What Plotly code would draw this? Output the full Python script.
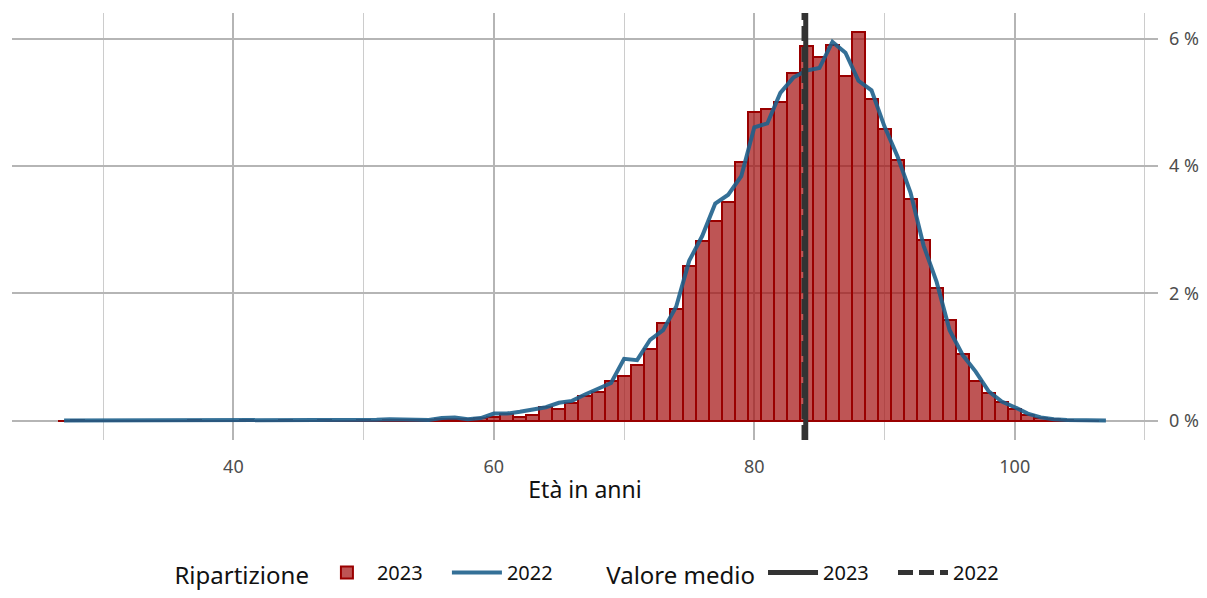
import plotly.graph_objects as go

# ---------------- data ----------------
ages_2023 = list(range(27, 107))
share_2023 = {
    28: 0.005, 37: 0.005, 41: 0.005, 44: 0.005, 47: 0.005, 50: 0.005,
    52: 0.008, 53: 0.01, 54: 0.008, 55: 0.015, 56: 0.02, 57: 0.03, 58: 0.03,
    59: 0.04, 60: 0.05, 61: 0.11, 62: 0.06, 63: 0.09, 64: 0.21, 65: 0.18,
    66: 0.28, 67: 0.385, 68: 0.45, 69: 0.62, 70: 0.70, 71: 0.88, 72: 1.12,
    73: 1.54, 74: 1.76, 75: 2.43, 76: 2.82, 77: 3.14, 78: 3.44, 79: 4.07,
    80: 4.85, 81: 4.89, 82: 5.00, 83: 5.46, 84: 5.88, 85: 5.72, 86: 5.90,
    87: 5.42, 88: 6.10, 89: 5.05, 90: 4.58, 91: 4.10, 92: 3.49, 93: 2.84,
    94: 2.08, 95: 1.58, 96: 1.04, 97: 0.62, 98: 0.44, 99: 0.29, 100: 0.19,
    101: 0.09, 102: 0.04, 103: 0.02, 104: 0.01,
}
values_2023 = [share_2023.get(a, 0) for a in ages_2023]

ages_2022 = list(range(27, 108))
values_2022 = [
    0, 0, 0, 0, 0, 0, 0, 0, 0, 0,            # 27-36
    0, 0, 0, 0, 0, 0, 0.004, 0.006, 0.003, 0,  # 37-46
    0.002, 0.004, 0.01, 0.008, 0.012,        # 47-51
    0.02, 0.02, 0.02, 0.01, 0.04, 0.05, 0.02, 0.04,  # 52-59
    0.11, 0.11, 0.14, 0.17, 0.21, 0.28, 0.31, 0.41,  # 60-67
    0.50, 0.59, 0.97, 0.95, 1.27, 1.42, 1.79, 2.51,  # 68-75
    2.90, 3.41, 3.55, 3.84, 4.61, 4.67, 5.15, 5.39,  # 76-83
    5.50, 5.54, 5.95, 5.78, 5.34, 5.19, 4.62, 4.15,  # 84-91
    3.58, 2.75, 2.18, 1.42, 1.03, 0.77, 0.46, 0.30,  # 92-99
    0.21, 0.11, 0.05, 0.02, 0.01, 0.005, 0, 0,       # 100-107
]

mean_2023 = 83.95
mean_2022 = 83.82

x_range = [23, 111]
x_ticks = [40, 60, 80, 100]
y_range = [-0.305, 6.405]
y_ticks = [0, 2, 4, 6]
y_ticklabels = ["0 %", "2 %", "4 %", "6 %"]

FONT = "Noto Sans"

fig = go.Figure()

fig.add_trace(go.Bar(
    x=ages_2023, y=values_2023, width=1,
    name="2023", legend="legend",
    marker=dict(color="rgba(165,20,20,0.72)",
                line=dict(color="#9a0000", width=2)),
))

fig.add_trace(go.Scatter(
    x=ages_2022, y=values_2022, mode="lines", name="2022",
    legend="legend",
    line=dict(color="rgba(30,96,140,0.9)", width=4),
))

fig.add_trace(go.Scatter(
    x=[mean_2023, mean_2023], y=y_range, mode="lines", name="2023",
    legend="legend2",
    line=dict(color="#333333", width=5),
))
fig.add_trace(go.Scatter(
    x=[mean_2022, mean_2022], y=y_range, mode="lines", name="2022",
    legend="legend2",
    line=dict(color="#333333", width=5, dash="15px,6px"),
))

legend_common = dict(
    orientation="h", y=-0.314, xanchor="left", yanchor="middle",
    font=dict(size=20, color="#111111"), itemwidth=50,
    entrywidth=65, entrywidthmode="pixels",
    bgcolor="rgba(0,0,0,0)",
)

fig.update_layout(
    width=1199, height=590,
    margin=dict(l=3.5, r=49, t=5, b=155),
    plot_bgcolor="white", paper_bgcolor="white",
    font=dict(family=FONT, color="#222222"),
    bargap=0,
    xaxis=dict(
        range=x_range, tickvals=x_ticks,
        showgrid=True, gridcolor="#b5b5b5", gridwidth=2,
        minor=dict(dtick=10, tick0=0, showgrid=True, gridcolor="#cccccc", gridwidth=1),
        zeroline=False, showline=False, ticks="", ticklabelstandoff=14,
        tickfont=dict(size=18, color="#4d4d4d"),
        title=dict(text="Età in anni", font=dict(size=23, color="#111111"), standoff=4),
    ),
    yaxis=dict(
        range=y_range, tickmode="array", tickvals=y_ticks, ticktext=y_ticklabels,
        side="right", ticklabelstandoff=10,
        showgrid=True, gridcolor="#b5b5b5", gridwidth=2,
        zeroline=False, showline=False, ticks="",
        tickfont=dict(size=18, color="#4d4d4d"),
    ),
    legend=dict(
        x=0.1400,
        title=dict(text="Ripartizione", side="left", font=dict(size=24, color="#111111")),
        **legend_common,
    ),
    legend2=dict(
        x=0.5168,
        title=dict(text="Valore medio", side="left", font=dict(size=24, color="#111111")),
        **legend_common,
    ),
)

fig.write_html("out.html")
